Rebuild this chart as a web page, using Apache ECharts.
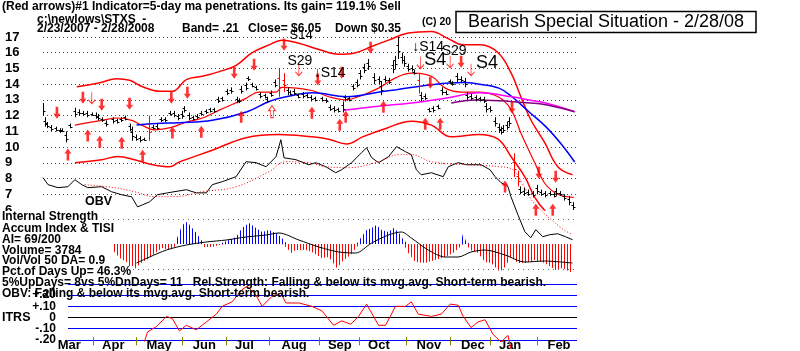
<!DOCTYPE html>
<html>
<head>
<meta charset="utf-8">
<script src="https://cdn.jsdelivr.net/npm/echarts@6/dist/echarts.min.js"></script>
<style>
  html, body { margin: 0; padding: 0; background: #fff; }
  #chart { width: 800px; height: 351px; }
</style>
</head>
<body>
<div id="chart"></div>
<script>
// x = trading day since 2/23/2007
const monthNames = ['Mar', 'Apr', 'May', 'Jun', 'Jul', 'Aug', 'Sep', 'Oct', 'Nov', 'Dec', 'Jan', 'Feb']
const monthLabelDays = [7, 28, 49, 71, 91, 113, 135, 154, 177, 198, 216, 239]
const monthTickDays = [24, 44, 66, 87, 107, 131, 150, 172, 193, 212, 234]
const priceLabels = ['6', '7', '8', '9', '10', '11', '12', '13', '14', '15', '16', '17']
const itrsLabels = ['-.30', '-.20', '-.10', '0', '+.10', '+.20', '+.30']

// price bars (high / low)
const barDays = [0,1,2,4,6,8,9,11,13,15,17,19,21,23,25,26,28,30,33,35,37,39,41,42,44,46,48,50,52,54,56,58,60,62,64,66,67,69,71,73,75,77,79,81,83,85,87,89,92,93,94,96,97,99,101,103,105,106,108,110,112,114,116,117,119,121,123,125,127,129,132,134,136,138,140,142,143,145,147,149,150,152,154,157,159,160,162,164,166,167,168,170,171,173,175,176,178,179,181,183,185,187,189,191,193,194,196,198,200,201,203,205,207,209,210,212,214,216,217,218,220,221,223,225,226,228,230,232,234,236,238,240,242,243,245,247,249,251]
const barHighs = [12.8,11.9,11.6,11.4,11.3,11.2,11.2,11.0,11.5,12.5,12.4,12.3,12.3,12.2,12.2,12.1,11.9,11.7,11.9,11.8,11.9,12.0,11.5,11.3,10.8,10.7,10.6,12.0,11.4,11.5,11.9,11.9,12.3,12.3,12.1,12.3,12.6,12.2,12.0,12.1,12.3,12.4,12.5,12.5,13.2,13.2,13.7,13.8,13.2,13.1,13.9,14.1,14.5,14.1,13.9,13.5,13.4,13.2,13.6,14.3,15.0,14.7,13.8,13.6,13.7,13.4,13.5,13.4,13.3,13.2,13.2,13.1,12.7,12.6,12.5,12.9,13.3,13.2,14.0,14.3,14.9,15.3,15.6,14.7,14.5,14.2,14.5,14.4,15.5,15.8,17.0,16.0,15.8,15.3,15.2,14.9,14.7,13.5,13.4,12.5,12.6,12.7,13.8,13.6,14.3,14.2,14.7,14.5,14.4,13.5,13.4,13.3,13.2,13.2,12.8,12.6,11.9,11.5,11.3,11.4,11.6,11.9,9.6,8.5,7.5,7.4,7.3,7.2,7.6,7.3,7.2,7.2,7.1,7.4,7.2,7.0,6.9,6.5]
const barLows = [12.0,11.3,11.2,11.0,11.0,10.9,10.95,10.3,11.2,11.9,12.0,12.0,11.9,12.0,11.8,11.7,11.6,11.3,11.5,11.5,11.6,11.7,11.0,10.4,10.4,10.3,10.4,10.4,11.1,11.1,11.6,11.6,12.0,11.9,11.7,11.8,12.2,11.7,11.7,11.8,12.0,12.1,12.2,12.2,12.8,12.9,13.3,13.4,12.8,12.8,13.4,13.6,14.2,13.8,13.6,13.1,13.1,12.8,13.2,13.8,13.2,13.5,13.3,13.3,13.3,13.1,13.1,13.1,12.9,12.9,12.9,12.8,12.3,12.2,12.2,12.2,12.9,12.9,13.6,13.8,14.3,14.7,14.9,14.0,14.0,13.3,14.1,14.0,14.7,15.0,15.6,15.3,15.1,14.8,14.8,14.6,13.4,12.9,13.0,12.2,12.2,12.4,13.3,13.3,14.0,13.9,14.1,14.1,13.8,13.0,13.0,12.9,12.9,12.8,12.2,12.2,11.3,10.9,10.8,10.9,11.1,11.3,8.1,7.5,7.0,6.9,6.9,6.8,7.0,6.9,6.8,6.9,6.8,6.9,6.9,6.6,6.3,6.0]
const redBarDays = [50, 112, 114, 178, 223, 225]

// bands and moving averages
const upperDays = [16.0,26.9,34.9,41.0,47.2,55.2,61.3,67.9,75.5,83.5,91.5,99.1,107.1,113.2,121.2,130.7,140.1,148.1,155.7,163.7,173.1,184.0,192.0,199.1,207.1,215.6,221.7,226.4,231.1,237.7,243.9,250.9]
const upperVals = [13.84,14.09,14.35,14.25,13.84,13.55,13.55,14.29,14.5,14.8,15.2,16.0,16.5,16.8,16.6,16.2,15.9,16.0,16.4,16.8,17.25,17.35,16.9,16.5,16.5,16.0,14.73,13.2,11.74,10.28,8.75,8.24]
const middleDays = [15.1,27.8,35.4,42.0,46.7,52.8,60.8,67.0,75.5,83.5,96.2,102.4,110.4,113.2,127.4,135.4,143.4,149.5,159.0,167.0,174.5,184.0,190.6,198.1,206.1,215.6,221.7,226.4,233.0,237.7,243.9,251.4]
const middleVals = [11.4,11.7,11.85,11.7,11.4,11.1,11.25,11.55,11.85,12.35,13.1,13.5,13.5,13.8,13.6,13.2,13.0,13.2,13.75,14.4,14.7,14.5,13.75,13.5,13.5,13.2,12.4,10.9,9.0,7.7,7.0,6.8]
const lowerDays = [15.1,27.8,35.4,43.4,51.4,59.9,64.6,80.2,96.2,111.8,127.4,135.4,143.9,151.4,162.7,174.5,184.0,193.4,206.6,215.6,221.7,228.3,233.0,238.2,243.9,250.9]
const lowerVals = [9.0,9.2,9.4,9.2,8.9,8.75,9.05,9.8,10.6,10.8,10.65,10.5,10.2,10.65,11.2,11.65,11.4,10.65,10.8,10.5,9.4,8.1,6.8,5.9,5.3,4.8]
const blueDays = [44.3,53.8,64.6,80.2,96.7,107.1,115.1,127.8,143.9,159.4,167.5,183.1,198.6,206.6,216.0,222.2,230.2,238.2,245.8,251.9]
const blueVals = [11.4,11.5,11.55,11.7,12.25,12.9,13.2,13.45,13.2,13.5,13.65,13.95,14.1,14.0,13.75,13.2,12.25,11.3,10.15,9.05]
const magentaDays = [142.5,159.0,174.5,190.6,206.6,222.2,230.2,238.2,251.9]
const magentaVals = [12.35,12.6,12.8,13.1,13.45,13.2,13.0,12.8,12.25]
const purpleDays = [193.4,205.2,216.5,225.9,235.4,244.8,251.9]
const purpleVals = [12.8,13.0,12.95,12.85,12.75,12.5,12.25]

// OBV (drawn in the price panel's scale)
const obvDays = [0,2.4,7.1,11.8,15.1,18.4,21.2,27.8,32.5,37.3,42.0,44.8,47.2,50.5,54.2,59.0,67.9,72.6,77.4,80.2,84.9,91.5,96.2,100.9,105.7,110.4,112.7,114.2,119.8,125.9,129.2,134.0,138.7,141.5,146.2,150.9,153.3,155.7,159.0,163.7,167.5,171.7,174.5,176.9,179.2,184.0,189.6,192.0,196.7,200.5,207.5,211.8,214.2,217.0,220.3,221.7,225.0,228.3,231.1,233.5,236.8,240.1,243.9,247.6,250.9]
const obvVals = [8.06,7.61,7.42,7.48,7.93,7.61,7.42,7.48,7.16,6.97,6.84,6.20,6.33,6.52,6.97,7.09,7.29,7.09,7.09,7.61,7.80,8.12,9.07,9.01,8.75,9.39,10.47,9.32,9.20,8.88,9.01,8.75,8.37,8.56,9.01,9.64,9.96,9.33,9.01,9.39,10.03,9.71,9.52,8.56,8.24,8.37,8.12,8.75,9.01,8.88,8.88,8.56,8.12,7.74,7.49,6.85,5.70,4.62,4.24,4.75,4.30,4.43,4.49,4.30,4.11]
const obvMaDays = [19.8,34.0,43.4,52.8,62.3,75.5,91.5,107.1,115.1,125.9,134.0,144.8,159.0,168.4,174.5,184.0,200.5,216.5,222.6,227.4,232.1,245.3,250.9]
const obvMaVals = [7.61,7.42,7.16,6.85,6.85,7.16,7.48,8.44,9.07,9.01,8.75,8.69,9.07,9.52,9.52,9.07,8.88,8.75,8.56,7.61,6.53,4.88,4.43]

// arrows
const upDays = [11.8,21.2,26.9,37.3,47.2,61.3,75.0,93.9,127.4,140.6,143.4,161.3,181.1,188.2,218.9,233.5,241.5]
const upPrices = [9.53,10.73,10.34,10.28,9.45,10.92,10.98,11.93,12.19,11.42,11.93,12.57,11.49,11.49,7.49,6.02,6.02]
const hollowUpDays = [108.5]
const hollowUpPrices = [12.25]
const downDays = [6.6,18.9,27.8,41.0,60.8,68.4,90.6,100.0,114.2,130.2,141.5,155.2,183.5,198.1,222.2,234.9,242.9]
const downPrices = [12.19,13.14,12.70,12.76,13.14,13.46,14.73,15.24,16.51,14.29,14.73,16.32,14.09,15.43,12.51,8.37,8.12]
const thinDownDays = [23.1,121.2,178.8,192.9,202.8]
const thinDownPrices = [13.14,14.92,15.37,15.43,14.92]

// signal labels
const sigDays = [122.3,121.7,135.8,182.5,194.8,185.8,210.4]
const sigPrices = [17.08,15.49,14.73,16.38,16.13,15.55,15.36]
const sigTexts = ['S14', 'S29', '\u2193S14', '\u2193S14', 'S29', 'S4', 'S4']
const sigSizes = [13, 14, 14, 14, 14, 18, 18]

// accumulation index
const aiDays = [33.0,36.3,39.6,42.5,44.3,47.2,50.5,53.8,56.6,59.9,62.3,63.7,65.6,67.0,68.4,70.3,72.6,75.0,76.4,80.2,83.5,88.2,91.5,94.3,97.6,100.9,103.8,107.1,110.4,113.2,115.6,117.5,119.8,124.5,127.4,132.1,135.4,139.2,142.5,145.8,148.6,150.5,153.3,155.7,158.0,160.4,163.7,166.0,168.4,170.8,173.1,176.4,181.1,185.8,190.6,194.3,197.6,199.1,200.5,202.4,206.1,209.4,212.3,216.5,218.9,221.7,225.0,228.8,233.0,237.7,242.9,246.2,250.9]
const aiVals = [-0.06,-0.14,-0.18,-0.28,-0.23,-0.18,-0.14,-0.08,-0.04,-0.06,-0.03,0.07,0.17,0.21,0.22,0.17,0.11,0.04,-0.03,-0.03,-0.01,0.04,0.07,0.16,0.21,0.16,0.12,0.14,0.11,0.06,-0.04,-0.09,-0.06,-0.06,-0.08,-0.14,-0.13,-0.24,-0.16,-0.11,-0.03,0.06,0.14,0.16,0.19,0.14,0.12,0.16,0.12,0.04,-0.09,-0.18,-0.19,-0.16,-0.13,-0.09,-0.03,0.11,0.02,-0.06,-0.09,-0.18,-0.19,-0.28,-0.23,-0.13,-0.19,-0.19,-0.16,-0.19,-0.26,-0.24,-0.29]
const aiMaDays = [44.3,50.5,58.5,67.9,77.4,86.8,96.2,105.7,111.8,121.2,130.7,140.1,148.1,155.7,163.7,169.8,174.5,182.5,190.6,196.7,202.8,209.4,218.9,228.3,237.7,245.3,250.9]
const aiMaVals = [-0.19,-0.13,-0.06,-0.01,0.02,0.04,0.07,0.09,0.11,0.04,-0.03,-0.08,-0.09,0.01,0.09,0.12,0.06,-0.06,-0.13,-0.13,-0.08,-0.06,-0.11,-0.18,-0.17,-0.18,-0.19]

// ITRS
const itrsDays = [48.1,49.5,53.8,58.5,61.3,64.6,67.9,72.6,77.4,82.1,84.9,89.6,94.3,96.7,100.9,103.8,108.5,112.7,115.1,121.2,127.4,132.1,137.7,141.5,145.8,149.5,153.3,159.0,162.3,167.0,171.7,174.5,177.8,184.0,188.7,192.9,196.7,199.1,202.8,206.1,209.4,213.2,217.0,220.3,221.7]
const itrsVals = [-0.215,-0.13,-0.08,0.01,-0.01,-0.12,-0.07,-0.11,-0.04,0.03,0.10,0.14,0.25,0.28,0.20,0.10,0.19,0.22,0.13,0.13,0.10,0.06,-0.07,-0.03,-0.06,0.01,0.12,-0.07,-0.07,0.10,0.10,0.14,0.03,0.01,0.03,0.12,0.11,0.01,-0.09,-0.04,-0.02,-0.15,-0.22,-0.16,-0.28]

const FAMILY = '"Liberation Sans", Arial, sans-serif'
const font = (size, weight = 'bold') => `${weight} ${size}px ${FAMILY}`
const pairs = (xs, ys) => xs.map((x, i) => [x, ys[i]])

function stripes(color) {
  const c = document.createElement('canvas')
  c.width = 3
  c.height = 4
  const g = c.getContext('2d')
  g.fillStyle = color
  g.fillRect(0, 0, 1, 4)
  return c
}

function priceLine(name, xs, ys, color, extra) {
  return Object.assign({
    name, type: 'line', xAxisIndex: 0, yAxisIndex: 0,
    data: pairs(xs, ys), showSymbol: false, smooth: 0.4, silent: true,
    lineStyle: { color, width: 1.5 },
  }, extra)
}

function txt(x, y, text, size, extra) {
  return {
    type: 'text', x, y, z: 100,
    style: Object.assign({ text, font: font(size), fill: '#000', verticalAlign: 'middle' }, extra),
  }
}

const boxed = { backgroundColor: '#fff', padding: [0, 2, 0, 0] }

const UP = 'path://M4,0 L8,5 L5.5,5 L5.5,12 L2.5,12 L2.5,5 L0,5 Z'
const THIN = 'path://M3,12 L3,0 M0,4 L3,0 L6,4'

function arrows(xs, ys, rotate, hollow, symbol) {
  return {
    type: 'scatter', xAxisIndex: 0, yAxisIndex: 0, silent: true, clip: false,
    symbol: symbol || UP, symbolSize: [7, 12], symbolRotate: rotate,
    data: pairs(xs, ys),
    itemStyle: hollow ? { color: 'rgba(0,0,0,0)', borderColor: '#ff0000', borderWidth: 1 } : { color: '#ff0000' },
    z: 5,
  }
}

const chart = echarts.init(document.getElementById('chart'), null, { renderer: 'canvas' })

chart.setOption({
  animation: false,
  backgroundColor: '#ffffff',
  grid: [
    { left: 43, top: 37, width: 534, height: 173 },
    { left: 43, top: 212, width: 534, height: 64 },
    { left: 68, top: 284, width: 509, height: 69 },
    { left: 43, top: 337, width: 534, height: 1 },
  ],
  xAxis: [
    { type: 'value', gridIndex: 0, min: 0, max: 253, show: false },
    { type: 'value', gridIndex: 1, min: 0, max: 253, show: false },
    { type: 'value', gridIndex: 2, min: 11.84, max: 253, show: false },
    {
      type: 'value', gridIndex: 3, min: 0, max: 253,
      axisLine: { show: false }, splitLine: { show: false },
      axisTick: { show: true, customValues: monthTickDays, length: 8, lineStyle: { color: '#808000' } },
      axisLabel: {
        customValues: monthLabelDays, align: 'left', margin: 2,
        formatter: (v) => monthNames[monthLabelDays.indexOf(v)] || '',
        color: '#000', fontFamily: FAMILY, fontWeight: 'bold', fontSize: 13,
      },
    },
  ],
  yAxis: [
    {
      type: 'value', gridIndex: 0, min: 6, max: 17, interval: 1,
      axisLine: { show: false }, axisTick: { show: false },
      axisLabel: {
        margin: 38, align: 'left', formatter: (v) => priceLabels[v - 6],
        color: '#000', fontFamily: FAMILY, fontWeight: 'bold', fontSize: 13,
      },
      splitLine: { lineStyle: { color: priceLabels.map((_, i) => (i === 0 ? 'rgba(0,0,0,0)' : '#008000')), type: [1, 3] } },
    },
    { type: 'value', gridIndex: 1, min: -0.32, max: 0.32, show: false },
    {
      type: 'value', gridIndex: 2, min: -0.3, max: 0.3, interval: 0.1,
      axisLine: { show: false }, axisTick: { show: false },
      axisLabel: {
        margin: 12, formatter: (v) => itrsLabels[Math.round(v * 10) + 3],
        color: '#000', fontFamily: FAMILY, fontWeight: 'bold', fontSize: 12,
      },
      splitLine: { lineStyle: { color: ['#0000ff', '#0000ff', '#0000ff', '#000000', '#0000ff', '#0000ff', '#0000ff'], width: 1 } },
    },
    { type: 'value', gridIndex: 3, min: 0, max: 1, show: false },
  ],
  series: [
    priceLine('upper', upperDays, upperVals, '#ff0000', { clip: false }),
    priceLine('middle', middleDays, middleVals, '#ff0000', { lineStyle: { color: '#ff0000', width: 1.2 } }),
    priceLine('lower', lowerDays, lowerVals, '#ff0000'),
    priceLine('ma50', blueDays, blueVals, '#0000ff'),
    priceLine('ma200', magentaDays, magentaVals, '#ff00ff'),
    priceLine('ma', purpleDays, purpleVals, '#800080'),
    priceLine('obv', obvDays, obvVals, '#000000', { smooth: false, clip: false, lineStyle: { color: '#000', width: 1 } }),
    priceLine('obvMa', obvMaDays, obvMaVals, '#ff0000', { clip: false, lineStyle: { color: '#ff0000', width: 1, type: [1, 2] } }),
    {
      type: 'custom', xAxisIndex: 0, yAxisIndex: 0, silent: true, clip: true, z: 4,
      data: barDays.map((d, i) => [d, barLows[i], barHighs[i], redBarDays.includes(d) ? 1 : 0]),
      encode: { x: 0, y: [1, 2] },
      renderItem(params, api) {
        const lo = api.coord([api.value(0), api.value(1)])
        const hi = api.coord([api.value(0), api.value(2)])
        const x = Math.round(lo[0]) + 0.5
        const open = Math.round(hi[1] + (lo[1] - hi[1]) * 0.35) + 0.5
        const close = Math.round(hi[1] + (lo[1] - hi[1]) * 0.65) + 0.5
        const stroke = api.value(3) ? '#ff0000' : '#000000'
        return {
          type: 'group',
          children: [
            { type: 'line', shape: { x1: x, y1: lo[1], x2: x, y2: hi[1] }, style: { stroke, lineWidth: 1 } },
            { type: 'line', shape: { x1: x - 2, y1: open, x2: x, y2: open }, style: { stroke, lineWidth: 1 } },
            { type: 'line', shape: { x1: x, y1: close, x2: x + 2, y2: close }, style: { stroke, lineWidth: 1 } },
          ],
        }
      },
    },
    arrows(upDays, upPrices, 0, false),
    arrows(hollowUpDays, hollowUpPrices, 0, true),
    arrows(downDays, downPrices, 180, false),
    arrows(thinDownDays, thinDownPrices, 180, true, THIN),
    {
      // signal labels, placed through the price scale
      type: 'custom', xAxisIndex: 0, yAxisIndex: 0, silent: true, clip: false, z: 6,
      data: sigDays.map((d, i) => [d, sigPrices[i], i]),
      encode: { x: 0, y: 1 },
      renderItem(params, api) {
        const p = api.coord([api.value(0), api.value(1)])
        const i = api.value(2)
        return {
          type: 'text', x: p[0], y: p[1],
          style: { text: sigTexts[i], font: font(sigSizes[i], 'normal'), fill: '#000000', align: 'center', verticalAlign: 'middle' },
        }
      },
    },
    {
      name: 'aiPos', type: 'line', xAxisIndex: 1, yAxisIndex: 1, silent: true, showSymbol: false,
      data: aiDays.map((d, i) => [d, Math.max(aiVals[i], 0)]),
      lineStyle: { width: 0 },
      areaStyle: { color: { image: stripes('#0000ff'), repeat: 'repeat' }, opacity: 1 },
    },
    {
      name: 'aiNeg', type: 'line', xAxisIndex: 1, yAxisIndex: 1, silent: true, showSymbol: false,
      data: aiDays.map((d, i) => [d, Math.min(aiVals[i], 0)]),
      lineStyle: { width: 0 },
      areaStyle: { color: { image: stripes('#ff0000'), repeat: 'repeat' }, opacity: 1 },
    },
    {
      name: 'aiMa', type: 'line', xAxisIndex: 1, yAxisIndex: 1, silent: true, showSymbol: false, smooth: 0.3,
      data: pairs(aiMaDays, aiMaVals),
      lineStyle: { color: '#000', width: 1 },
      markLine: {
        silent: true, symbol: 'none', label: { show: false },
        lineStyle: { color: '#666666', type: [1, 4], width: 1 },
        data: [{ yAxis: 0.25 }, { yAxis: -0.25 }],
      },
    },
    {
      name: 'itrs', type: 'line', xAxisIndex: 2, yAxisIndex: 2, silent: true, showSymbol: false, clip: false,
      data: pairs(itrsDays, itrsVals),
      lineStyle: { color: '#ff0000', width: 1 },
    },
  ],
  graphic: [
    txt(2, 7, '(Red arrows)#1 Indicator=5-day ma penetrations. Its gain= 119.1% Sell', 12),
    txt(37, 20, 'c:\\newlows\\STXS  -', 12),
    txt(37, 29, '2/23/2007 - 2/28/2008', 12),
    txt(182, 29, 'Band= .21', 12),
    txt(248, 29, 'Close= $6.05', 12),
    txt(335, 29, 'Down $0.35', 12),
    txt(422, 22, '(C) 20', 10.5),
    { type: 'rect', z: 100, shape: { x: 456, y: 11.5, width: 300, height: 21 }, style: { fill: '#fff', stroke: '#000', lineWidth: 1.5 } },
    { type: 'text', x: 606, y: 22, z: 101, style: { text: 'Bearish Special Situation - 2/28/08', font: font(18, 'normal'), fill: '#000', align: 'center', verticalAlign: 'middle' } },
    txt(85, 202, 'OBV', 12.5),
    txt(2, 217, 'Internal Strength', 12, boxed),
    txt(2, 229, 'Accum Index & TISI', 12, boxed),
    txt(2, 240, 'AI= 69/200', 12, boxed),
    txt(2, 251, 'Volume= 3784', 12, boxed),
    txt(2, 261, 'Vol/Vol 50 DA= 0.9', 12, boxed),
    txt(2, 272, 'Pct.of Days Up= 46.3%', 12, boxed),
    txt(2, 283, '5%UpDays= 8vs 5%DnDays= 11   Rel.Strength: Falling & below its mvg.avg. Short-term bearish.', 12),
    txt(2, 294, 'OBV: Falling & below its mvg.avg. Short-term bearish.', 12),
    txt(2, 318, 'ITRS', 12.5),
  ],
})
</script>
</body>
</html>
